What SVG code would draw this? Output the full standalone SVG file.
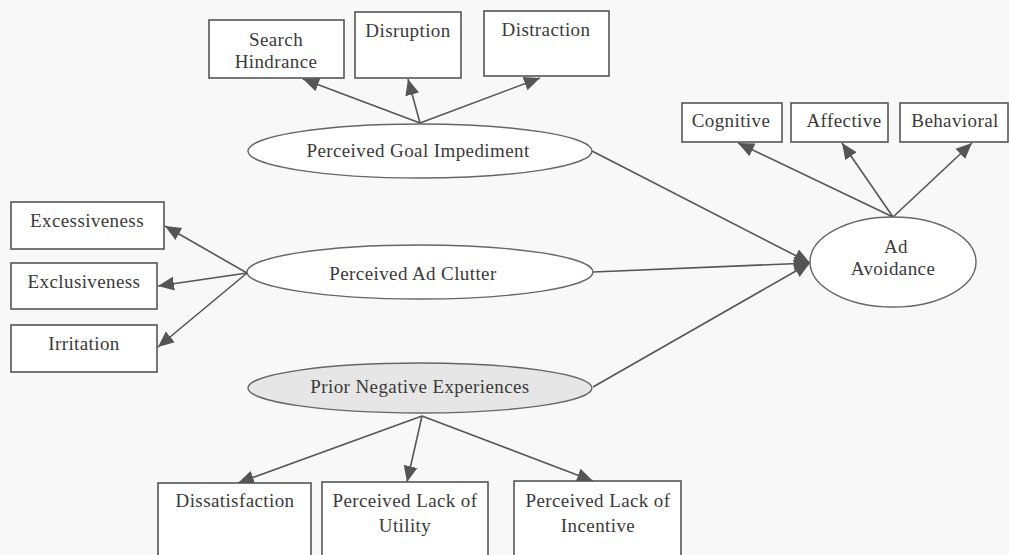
<svg xmlns="http://www.w3.org/2000/svg" width="1009" height="555" viewBox="0 0 1009 555">
<defs>
<marker id="ah" markerUnits="userSpaceOnUse" markerWidth="18" markerHeight="16" refX="16" refY="8" orient="auto">
<path d="M0,1 L16,8 L0,15 z" fill="#555"/>
</marker>
<style>
.box{fill:#fff;stroke:#555;stroke-width:1.6}
.ell{fill:#fff;stroke:#666;stroke-width:1.4}
.t{font-family:"Liberation Serif","Times New Roman",serif;font-size:19px;letter-spacing:0.4px;fill:#3a3a3a;text-anchor:middle}
.c{stroke:#555;stroke-width:1.6;fill:none;marker-end:url(#ah)}
</style>
</defs>
<rect width="1009" height="555" fill="#f8f8f8"/>

<g id="connectors">
<line class="c" x1="420" y1="123" x2="303" y2="79"/>
<line class="c" x1="420" y1="123" x2="408" y2="79"/>
<line class="c" x1="420" y1="123" x2="540" y2="78"/>
<line class="c" x1="247" y1="273" x2="165" y2="226"/>
<line class="c" x1="247" y1="273" x2="158" y2="286"/>
<line class="c" x1="247" y1="273" x2="158" y2="347"/>
<line class="c" x1="592" y1="151" x2="810" y2="263"/>
<line class="c" x1="593" y1="272" x2="810" y2="263"/>
<line class="c" x1="593" y1="387" x2="810" y2="263"/>
<line class="c" x1="893" y1="217" x2="738" y2="143"/>
<line class="c" x1="893" y1="217" x2="842" y2="143"/>
<line class="c" x1="893" y1="217" x2="972" y2="143"/>
<line class="c" x1="422" y1="416" x2="238" y2="483"/>
<line class="c" x1="422" y1="416" x2="407" y2="482"/>
<line class="c" x1="422" y1="416" x2="593" y2="481"/>
</g>

<g id="search-hindrance">
<rect class="box" x="209" y="20" width="135" height="58"/>
<text class="t" x="276" y="46">Search</text>
<text class="t" x="276" y="68">Hindrance</text>
</g>
<g id="disruption">
<rect class="box" x="355" y="12" width="106" height="66"/>
<text class="t" x="408" y="37">Disruption</text>
</g>
<g id="distraction">
<rect class="box" x="484" y="11" width="125" height="65"/>
<text class="t" x="546" y="36">Distraction</text>
</g>
<g id="goal-impediment">
<ellipse class="ell" cx="420" cy="151" rx="172" ry="27"/>
<text class="t" x="418" y="157">Perceived Goal Impediment</text>
</g>

<g id="excessiveness">
<rect class="box" x="11" y="202" width="153" height="47"/>
<text class="t" x="87" y="227">Excessiveness</text>
</g>
<g id="exclusiveness">
<rect class="box" x="11" y="263" width="146" height="46"/>
<text class="t" x="84" y="288">Exclusiveness</text>
</g>
<g id="irritation">
<rect class="box" x="11" y="325" width="146" height="47"/>
<text class="t" x="84" y="350">Irritation</text>
</g>
<g id="ad-clutter">
<ellipse class="ell" cx="420" cy="272" rx="173" ry="27"/>
<text class="t" x="413" y="280">Perceived Ad Clutter</text>
</g>

<g id="prior-negative">
<ellipse class="ell" cx="420" cy="388" rx="172" ry="25" style="fill:#e6e6e6"/>
<text class="t" x="420" y="393">Prior Negative Experiences</text>
</g>

<g id="cognitive">
<rect class="box" x="682" y="103" width="100" height="39"/>
<text class="t" x="731" y="127">Cognitive</text>
</g>
<g id="affective">
<rect class="box" x="791" y="103" width="97" height="39"/>
<text class="t" x="844" y="127">Affective</text>
</g>
<g id="behavioral">
<rect class="box" x="900" y="103" width="108" height="39"/>
<text class="t" x="955" y="127">Behavioral</text>
</g>
<g id="ad-avoidance">
<ellipse class="ell" cx="893" cy="262" rx="83" ry="45"/>
<text class="t" x="896" y="253">Ad</text>
<text class="t" x="893" y="275">Avoidance</text>
</g>

<g id="dissatisfaction">
<rect class="box" x="158" y="483" width="153" height="80"/>
<text class="t" x="235" y="507">Dissatisfaction</text>
</g>
<g id="lack-utility">
<rect class="box" x="322" y="482" width="166" height="80"/>
<text class="t" x="405" y="507">Perceived Lack of</text>
<text class="t" x="405" y="532">Utility</text>
</g>
<g id="lack-incentive">
<rect class="box" x="514" y="481" width="167" height="80"/>
<text class="t" x="598" y="507">Perceived Lack of</text>
<text class="t" x="598" y="532">Incentive</text>
</g>
</svg>
